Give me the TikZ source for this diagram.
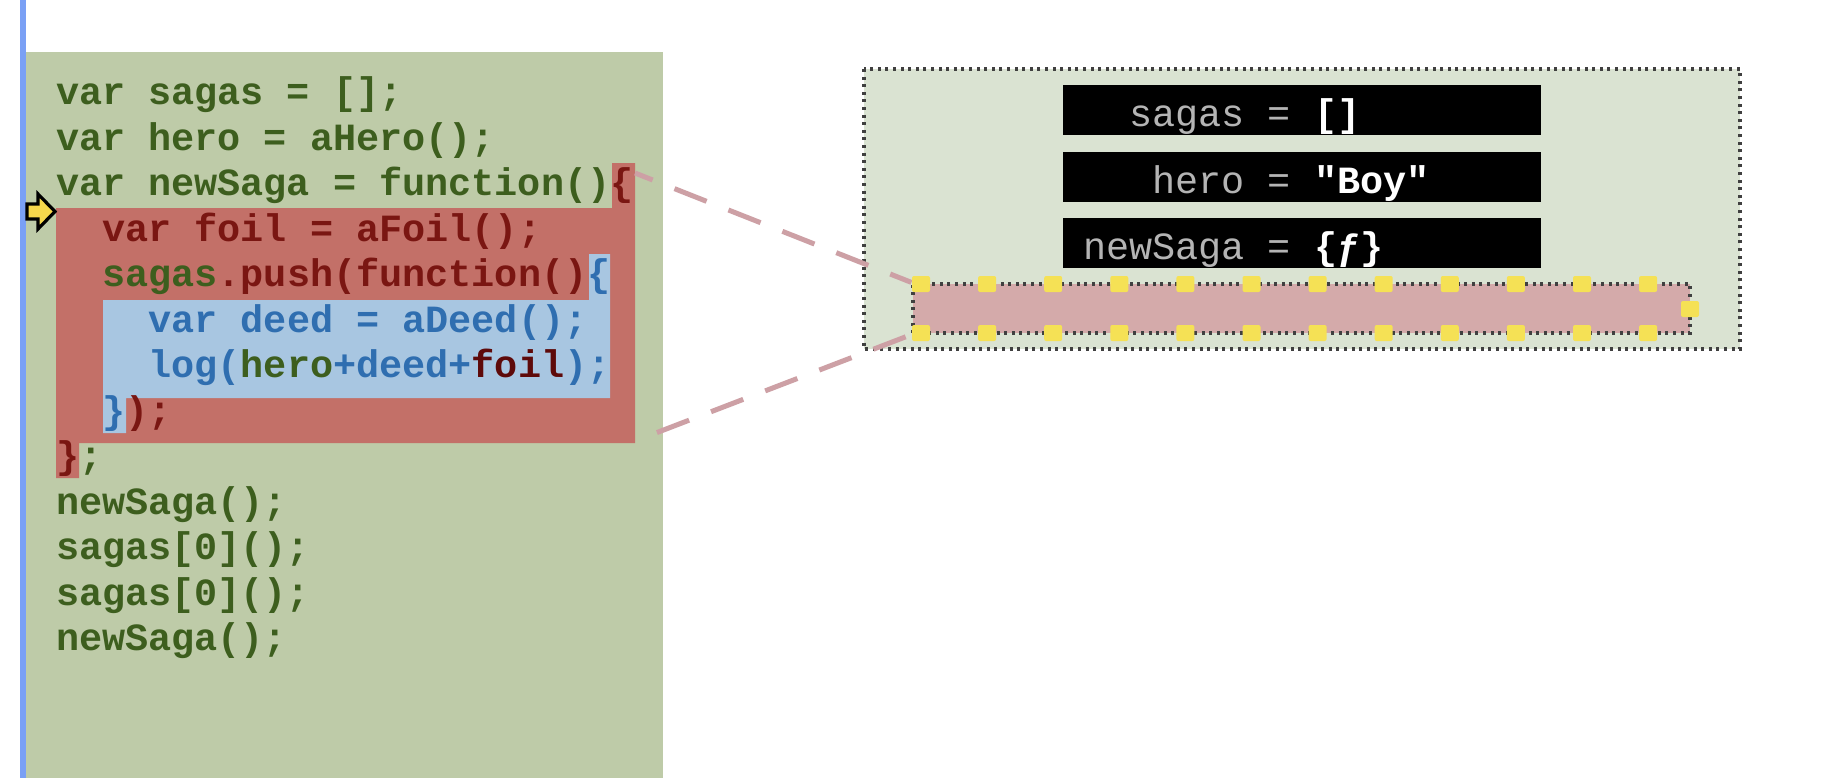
\documentclass[tikz,border=0pt]{standalone}
\usepackage{fontspec}
\setmonofont{Liberation Mono}
\usepackage{tikz}
\usetikzlibrary{positioning}
\definecolor{barblue}{HTML}{7AA0F5}
\definecolor{panelgreen}{HTML}{BECBA8}
\definecolor{hlred}{HTML}{C37068}
\definecolor{hlblue}{HTML}{A8C6E1}
\definecolor{codegreen}{HTML}{3D5E1E}
\definecolor{codered}{HTML}{7A1612}
\definecolor{codeblue}{HTML}{2F6EB0}
\definecolor{foilred}{HTML}{5E0A0A}
\definecolor{scopegray}{HTML}{DAE3D2}
\definecolor{framepink}{HTML}{D4AAAA}
\definecolor{linkpink}{HTML}{CDA0A5}
\definecolor{gripyellow}{HTML}{F5E155}
\definecolor{namegray}{HTML}{B4B4B4}
\tikzstyle{code}   = [anchor=west,inner sep=0pt,outer sep=0pt,minimum height=22.75pt,text height=14pt,text depth=4pt,font=\ttfamily\bfseries\fontsize{19.25}{22}\selectfont,text=codegreen]
\tikzstyle{varbox} = [fill=black,minimum width=239pt,minimum height=25pt,inner xsep=10pt,inner ysep=0pt,outer sep=0pt,text height=16.5pt,text depth=0pt,font=\ttfamily\fontsize{19.25}{22}\selectfont,text=namegray]
\tikzstyle{dotted box} = [draw=black!75,line width=1.6pt,dash pattern=on 1.5pt off 2.3pt]
\tikzstyle{grip}   = [fill=gripyellow,minimum width=9pt,minimum height=8pt,inner sep=0pt,rounded corners=1pt]
\tikzstyle{link}   = [draw=linkpink,line width=2.5pt,dash pattern=on 17.25pt off 11.75pt]

\begin{document}
\begin{tikzpicture}[x=0.5pt,y=-0.5pt]

\useasboundingbox[fill=white] (0,0) rectangle (1828,778);

\fill[barblue] (20,0) rectangle (26,778);
\fill[panelgreen] (26,52) rectangle (663,778);
\fill[hlred] (612,163) -- (635,163) -- (635,443) -- (79,443) -- (79,478) -- (56,478) -- (56,208) -- (612,208) -- cycle;
\fill[hlblue] (589,254) -- (610,254) -- (610,398) -- (126,398) -- (126,433) -- (103,433) -- (103,300) -- (589,300) -- cycle;
\filldraw[fill=gripyellow!90!orange,draw=black,line width=1.6pt] (27,204) -- (38,204) -- (38,194) -- (55,211.5) -- (38,229) -- (38,219) -- (27,219) -- cycle;

\node[code] (L1) at (56,94.5) {var sagas = [];};
\node[code,below=0pt of L1.south west,anchor=north west] (L2) {var hero = aHero();};
\node[code,below=0pt of L2.south west,anchor=north west] (L3) {var newSaga = function()\textcolor{codered}{\{}};
\node[code,below=0pt of L3.south west,anchor=north west,text=codered] (L4) {\phantom{xx}var foil = aFoil();};
\node[code,below=0pt of L4.south west,anchor=north west] (L5) {\phantom{xx}sagas\textcolor{codered}{.push(function()}\textcolor{codeblue}{\{}};
\node[code,below=0pt of L5.south west,anchor=north west,text=codeblue] (L6) {\phantom{xxxx}var deed = aDeed();};
\node[code,below=0pt of L6.south west,anchor=north west,text=codeblue] (L7) {\phantom{xxxx}log(\textcolor{codegreen}{hero}+deed+\textcolor{foilred}{foil});};
\node[code,below=0pt of L7.south west,anchor=north west,text=codered] (L8) {\phantom{xx}\textcolor{codeblue}{\}});};
\node[code,below=0pt of L8.south west,anchor=north west] (L9) {\textcolor{codered}{\}};};
\node[code,below=0pt of L9.south west,anchor=north west] (L10) {newSaga();};
\node[code,below=0pt of L10.south west,anchor=north west] (L11) {sagas[0]();};
\node[code,below=0pt of L11.south west,anchor=north west] (L12) {sagas[0]();};
\node[code,below=0pt of L12.south west,anchor=north west] (L13) {newSaga();};

\filldraw[dotted box,fill=scopegray] (864,69) rectangle (1740,349);

\node[varbox] (vSagas) at (1302,110) {\makebox[219pt][l]{\phantom{xx}sagas = \textcolor{white}{\bfseries []}}};
\node[varbox,below=8.25pt of vSagas] (vHero) {\makebox[219pt][l]{\phantom{xxx}hero = \textcolor{white}{\bfseries "Boy"}}};
\node[varbox,below=8.25pt of vHero] (vNewSaga) {\makebox[219pt][l]{newSaga = \textcolor{white}{\bfseries\{ƒ\}}}};

\node[dotted box,fill=framepink,minimum width=388.5pt,minimum height=24.5pt,inner sep=0pt] (fnFrame) at (1301.5,308.5) {};

\coordinate (fnTop) at (635,173);
\coordinate (fnBot) at (635,441);
\draw[link,dash phase=7.75pt] (fnTop) -- (fnFrame.north west);
\draw[link,dash phase=17.25pt] (fnBot) -- (fnFrame.south west);

\foreach \i in {0,...,11}{
  \node[grip] (gt\i) at (921+66.1*\i,284) {};
  \node[grip] (gb\i) at (921+66.1*\i,333) {};
}
\node[grip] (gr) at (1690,309) {};

\end{tikzpicture}
\end{document}
